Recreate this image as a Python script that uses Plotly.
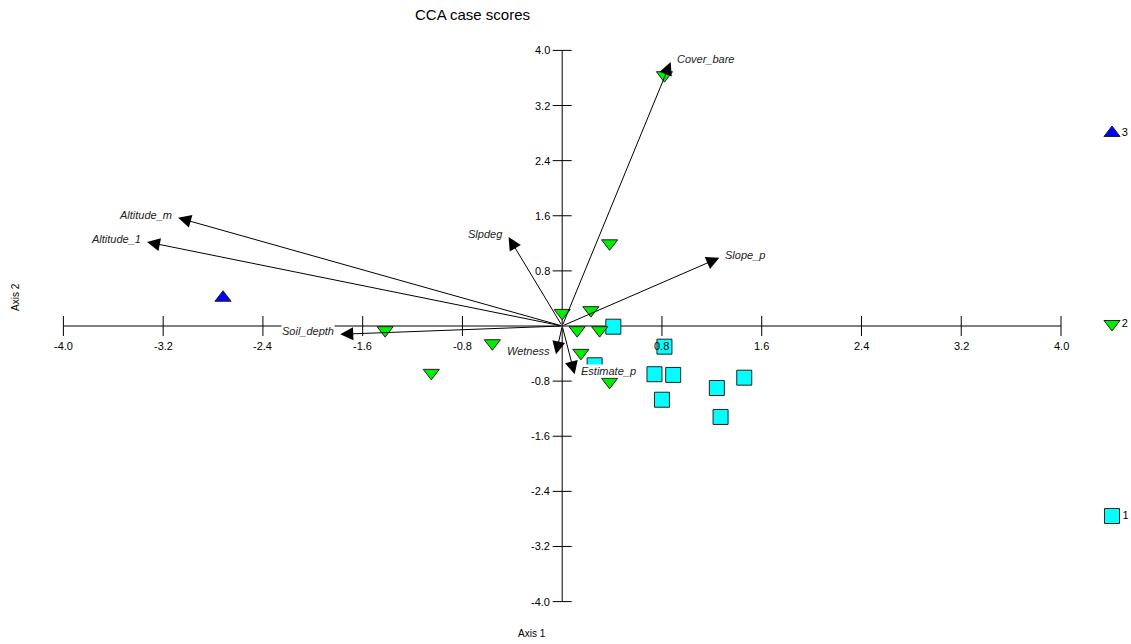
import plotly.graph_objects as go

# ---------------- data ----------------
# case scores per group
g1_x = [0.41, 0.82, 0.26, 0.74, 0.89, 0.80, 1.24, 1.46, 1.27]
g1_y = [-0.01, -0.30, -0.57, -0.70, -0.71, -1.07, -0.90, -0.75, -1.32]

g2_x = [0.82, 0.38, 0.00, 0.23, 0.12, 0.30, 0.15, 0.38, -0.56, -1.05, -1.42]
g2_y = [3.64, 1.20, 0.19, 0.23, -0.06, -0.06, -0.39, -0.81, -0.25, -0.68, -0.06]

g3_x = [-2.72]
g3_y = [0.41]

group_labels = ["1", "2", "3"]

# environmental biplot vectors
env_names = ["Cover_bare", "Slope_p", "Slpdeg", "Altitude_m", "Altitude_1",
             "Soil_depth", "Wetness", "Estimate_p"]
env_x = [0.87, 1.26, -0.43, -3.08, -3.33, -1.78, -0.05, 0.10]
env_y = [3.83, 0.99, 1.29, 1.57, 1.22, -0.12, -0.41, -0.70]

tick_values = [-4.0, -3.2, -2.4, -1.6, -0.8, 0.8, 1.6, 2.4, 3.2, 4.0]
tick_labels = ["-4.0", "-3.2", "-2.4", "-1.6", "-0.8", "0.8", "1.6", "2.4", "3.2", "4.0"]

# ---------------- layout constants ----------------
W, H = 1131, 644
PX_X0, PX_XS = 562.2, 124.7   # pixel of x=0, pixels per unit
PX_Y0, PX_YS = 326.0, 68.9    # pixel of y=0, pixels per unit
xr = [-PX_X0 / PX_XS, (W - PX_X0) / PX_XS]
yr = [(PX_Y0 - H) / PX_YS, PX_Y0 / PX_YS]

FONT = "Liberation Sans, Arial, sans-serif"
AX_MIN, AX_MAX = tick_values[0], tick_values[-1]
TICK_HALF_Y = 10 / PX_YS
TICK_HALF_X = 9.5 / PX_XS

fig = go.Figure()

# axis lines
fig.add_trace(go.Scatter(x=[AX_MIN, AX_MAX], y=[0, 0], mode="lines",
                         line=dict(color="black", width=1), hoverinfo="skip"))
fig.add_trace(go.Scatter(x=[0, 0], y=[AX_MIN, AX_MAX], mode="lines",
                         line=dict(color="black", width=1), hoverinfo="skip"))

# tick marks
tx, ty = [], []
for t in tick_values:
    tx += [t, t, None]
    ty += [-TICK_HALF_Y, TICK_HALF_Y, None]
    tx += [-TICK_HALF_X, TICK_HALF_X, None]
    ty += [t, t, None]
fig.add_trace(go.Scatter(x=tx, y=ty, mode="lines",
                         line=dict(color="black", width=1), hoverinfo="skip"))

mk_line = dict(color="#222222", width=1)
fig.add_trace(go.Scatter(x=g1_x, y=g1_y, mode="markers",
                         marker=dict(symbol="square", size=15, color="#00FFFF", line=mk_line)))
fig.add_trace(go.Scatter(x=g2_x, y=g2_y, mode="markers",
                         marker=dict(symbol="triangle-down", size=14, color="#00EE00", line=mk_line)))
fig.add_trace(go.Scatter(x=g3_x, y=g3_y, mode="markers",
                         marker=dict(symbol="triangle-up", size=14, color="#0000FF", line=mk_line)))

# legend glyphs (layout positions)
LEG_X = (1112 - PX_X0) / PX_XS
leg_y = [(PX_Y0 - 516) / PX_YS, (PX_Y0 - 324) / PX_YS, (PX_Y0 - 133) / PX_YS]
leg_sym = ["square", "triangle-down", "triangle-up"]
leg_col = ["#00FFFF", "#00EE00", "#0000FF"]
for i in range(3):
    fig.add_trace(go.Scatter(x=[LEG_X], y=[leg_y[i]], mode="markers+text",
                             text=[group_labels[i]], textposition="middle right",
                             textfont=dict(family=FONT, size=11, color="black"),
                             cliponaxis=False,
                             marker=dict(symbol=leg_sym[i], size=15 if i == 0 else 14,
                                         color=leg_col[i], line=mk_line)))

ann = []
# tick labels
for t, lab in zip(tick_values, tick_labels):
    ann.append(dict(x=t, y=0, xref="x", yref="y", text=lab, showarrow=False,
                    xanchor="center", yanchor="middle", yshift=-20,
                    font=dict(family=FONT, size=11, color="black")))
    ann.append(dict(x=0, y=t, xref="x", yref="y", text=lab, showarrow=False,
                    xanchor="right", yanchor="middle", xshift=-10,
                    font=dict(family=FONT, size=11, color="black")))

# env labels
for n, x, y in zip(env_names, env_x, env_y):
    ann.append(dict(x=x, y=y, xref="x", yref="y", text="<i>" + n + "</i>",
                    showarrow=False, xanchor="right" if x < 0 else "left",
                    xshift=-5 if x < 0 else 5, yshift=3, yanchor="middle",
                    bgcolor="white", borderpad=0,
                    font=dict(family=FONT, size=11, color="#222222")))
# env arrows
for x, y in zip(env_x, env_y):
    ann.append(dict(x=x, y=y, ax=0, ay=0, xref="x", yref="y", axref="x", ayref="y",
                    text="", showarrow=True, arrowhead=2, arrowsize=2.6, arrowwidth=1,
                    arrowcolor="black", standoff=0, startstandoff=0))

# titles
ann.append(dict(x=472 / W, y=1 - 15 / H, xref="paper", yref="paper", text="CCA case scores",
                showarrow=False, xanchor="center", yanchor="middle",
                font=dict(family=FONT, size=15, color="black")))
ann.append(dict(x=532 / W, y=1 - 633 / H, xref="paper", yref="paper", text="Axis 1",
                showarrow=False, xanchor="center", yanchor="middle",
                font=dict(family=FONT, size=10, color="black")))
ann.append(dict(x=16 / W, y=1 - 297 / H, xref="paper", yref="paper", text="Axis 2",
                showarrow=False, xanchor="center", yanchor="middle", textangle=-90,
                font=dict(family=FONT, size=10, color="black")))

fig.update_layout(
    width=W, height=H, margin=dict(l=0, r=0, t=0, b=0),
    paper_bgcolor="white", plot_bgcolor="white", showlegend=False,
    xaxis=dict(range=xr, visible=False, fixedrange=True),
    yaxis=dict(range=yr, visible=False, fixedrange=True),
    annotations=ann,
)

fig.write_html("out.html", config=dict(displayModeBar=False),
               post_script="document.body.style.margin='0';document.body.style.overflow='hidden';")
